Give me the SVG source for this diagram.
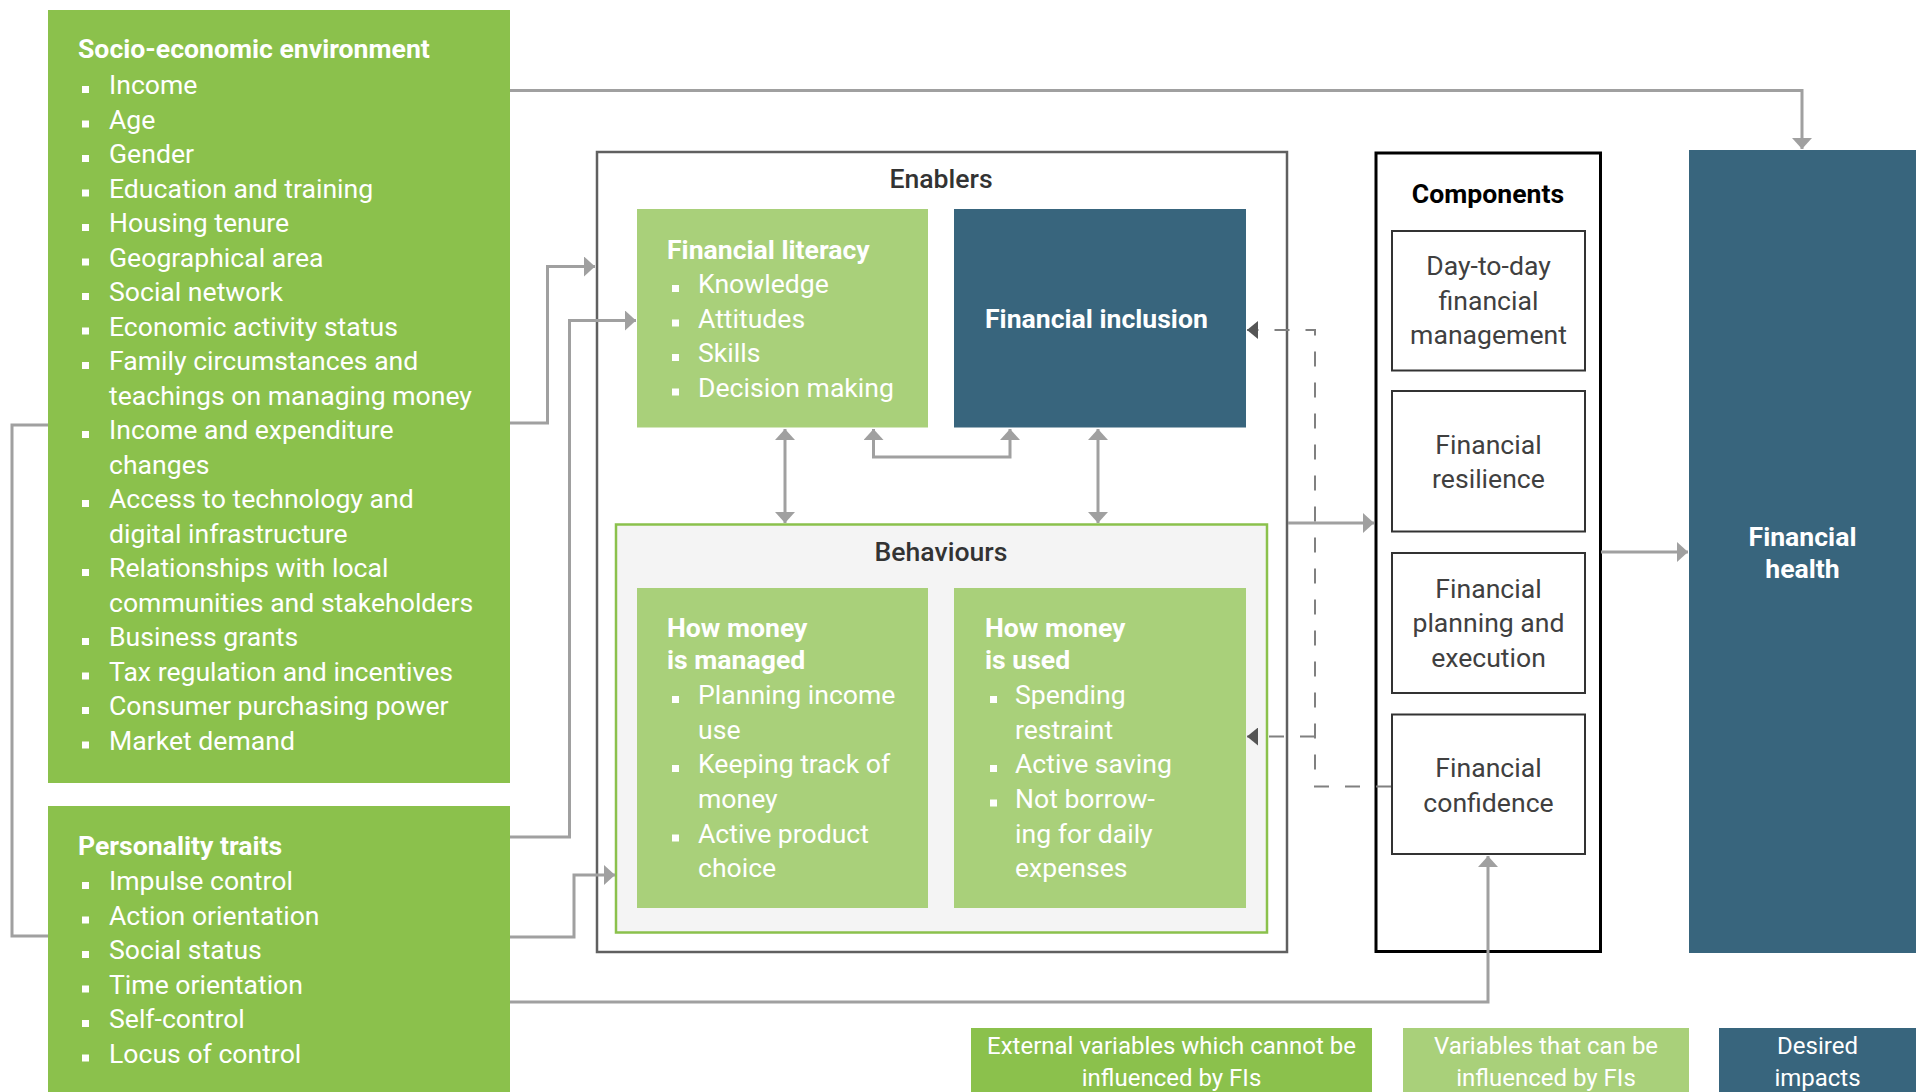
<svg xmlns="http://www.w3.org/2000/svg" width="1916" height="1092" viewBox="0 0 1916 1092">
<style>
text{font-family:Roboto,"Liberation Sans",sans-serif;font-size:26.6px}
.w{fill:#ffffff}
.b{font-weight:700}
.m{font-weight:500}
.d{fill:#404040}
.c{text-anchor:middle}
.lg{font-size:24px}
.dg{fill:#8BC14C}
.lgn{fill:#A9D07A}
.tl{fill:#38657D}
.bul{fill:#ffffff}
.conn{fill:none;stroke:#A0A0A0;stroke-width:3}
.dash{fill:none;stroke:#808080;stroke-width:2;stroke-dasharray:15 16}
.sub{fill:#ffffff;stroke:#333333;stroke-width:2}
</style>
<defs>
<marker id="ah" markerUnits="userSpaceOnUse" markerWidth="12" markerHeight="20" refX="11" refY="10" orient="auto-start-reverse" viewBox="0 0 12 20">
<path d="M0,0 L11,10 L0,20 z" fill="#A0A0A0"/>
</marker>
<marker id="ahd" markerUnits="userSpaceOnUse" markerWidth="12" markerHeight="18" refX="11" refY="9" orient="auto" viewBox="0 0 12 18">
<path d="M0,0 L11,9 L0,18 z" fill="#555555"/>
</marker>
</defs>
<rect width="1916" height="1092" fill="#ffffff"/>

<g id="socio-economic">
<rect class="dg" x="48" y="10" width="462" height="773"/>
<text class="w b" x="78" y="58">Socio-economic environment</text>
<g class="bul">
<rect x="82" y="86" width="7" height="7"/>
<rect x="82" y="120.5" width="7" height="7"/>
<rect x="82" y="155" width="7" height="7"/>
<rect x="82" y="189.5" width="7" height="7"/>
<rect x="82" y="224" width="7" height="7"/>
<rect x="82" y="258.5" width="7" height="7"/>
<rect x="82" y="293" width="7" height="7"/>
<rect x="82" y="327.5" width="7" height="7"/>
<rect x="82" y="362" width="7" height="7"/>
<rect x="82" y="431" width="7" height="7"/>
<rect x="82" y="500" width="7" height="7"/>
<rect x="82" y="569" width="7" height="7"/>
<rect x="82" y="638" width="7" height="7"/>
<rect x="82" y="672.5" width="7" height="7"/>
<rect x="82" y="707" width="7" height="7"/>
<rect x="82" y="741.5" width="7" height="7"/>
</g>
<text class="w" x="109">
<tspan x="109" y="94">Income</tspan>
<tspan x="109" y="128.5">Age</tspan>
<tspan x="109" y="163">Gender</tspan>
<tspan x="109" y="197.5">Education and training</tspan>
<tspan x="109" y="232">Housing tenure</tspan>
<tspan x="109" y="266.5">Geographical area</tspan>
<tspan x="109" y="301">Social network</tspan>
<tspan x="109" y="335.5">Economic activity status</tspan>
<tspan x="109" y="370">Family circumstances and</tspan>
<tspan x="109" y="404.5">teachings on managing money</tspan>
<tspan x="109" y="439">Income and expenditure</tspan>
<tspan x="109" y="473.5">changes</tspan>
<tspan x="109" y="508">Access to technology and</tspan>
<tspan x="109" y="542.5">digital infrastructure</tspan>
<tspan x="109" y="577">Relationships with local</tspan>
<tspan x="109" y="611.5">communities and stakeholders</tspan>
<tspan x="109" y="646">Business grants</tspan>
<tspan x="109" y="680.5">Tax regulation and incentives</tspan>
<tspan x="109" y="715">Consumer purchasing power</tspan>
<tspan x="109" y="749.5">Market demand</tspan>
</text>
</g>

<g id="personality-traits">
<rect class="dg" x="48" y="806" width="462" height="286"/>
<text class="w b" x="78" y="855">Personality traits</text>
<g class="bul">
<rect x="82" y="882" width="7" height="7"/>
<rect x="82" y="916.5" width="7" height="7"/>
<rect x="82" y="951" width="7" height="7"/>
<rect x="82" y="985.5" width="7" height="7"/>
<rect x="82" y="1020" width="7" height="7"/>
<rect x="82" y="1054.5" width="7" height="7"/>
</g>
<text class="w" x="109">
<tspan x="109" y="890">Impulse control</tspan>
<tspan x="109" y="924.5">Action orientation</tspan>
<tspan x="109" y="959">Social status</tspan>
<tspan x="109" y="993.5">Time orientation</tspan>
<tspan x="109" y="1028">Self-control</tspan>
<tspan x="109" y="1062.5">Locus of control</tspan>
</text>
</g>

<g id="enablers">
<rect x="597" y="152" width="690" height="800" fill="none" stroke="#606060" stroke-width="2.5"/>
<text class="c m" x="941" y="188" fill="#333333">Enablers</text>
</g>

<g id="financial-literacy">
<rect class="lgn" x="637" y="209" width="291" height="218.5"/>
<text class="w b" x="667" y="259">Financial literacy</text>
<g class="bul">
<rect x="672" y="285" width="7" height="7"/>
<rect x="672" y="319.5" width="7" height="7"/>
<rect x="672" y="354" width="7" height="7"/>
<rect x="672" y="388.5" width="7" height="7"/>
</g>
<text class="w">
<tspan x="698" y="293">Knowledge</tspan>
<tspan x="698" y="327.5">Attitudes</tspan>
<tspan x="698" y="362">Skills</tspan>
<tspan x="698" y="396.5">Decision making</tspan>
</text>
</g>

<g id="financial-inclusion">
<rect class="tl" x="954" y="209" width="292" height="218.5"/>
<text class="w b" x="985" y="327.5">Financial inclusion</text>
</g>

<g id="behaviours">
<rect x="616" y="524.5" width="651" height="408" fill="#F4F4F4" stroke="#8BC14C" stroke-width="2.5"/>
<text class="c m" x="941" y="561" fill="#333333">Behaviours</text>
</g>

<g id="how-money-is-managed">
<rect class="lgn" x="637" y="588" width="291" height="320"/>
<text class="w b"><tspan x="667" y="636.5">How money</tspan><tspan x="667" y="668.5">is managed</tspan></text>
<g class="bul">
<rect x="672" y="696" width="7" height="7"/>
<rect x="672" y="765" width="7" height="7"/>
<rect x="672" y="834.5" width="7" height="7"/>
</g>
<text class="w">
<tspan x="698" y="704">Planning income</tspan>
<tspan x="698" y="738.5">use</tspan>
<tspan x="698" y="773">Keeping track of</tspan>
<tspan x="698" y="807.5">money</tspan>
<tspan x="698" y="842.5">Active product</tspan>
<tspan x="698" y="877">choice</tspan>
</text>
</g>

<g id="how-money-is-used">
<rect class="lgn" x="954" y="588" width="292" height="320"/>
<text class="w b"><tspan x="985" y="636.5">How money</tspan><tspan x="985" y="668.5">is used</tspan></text>
<g class="bul">
<rect x="990" y="696" width="7" height="7"/>
<rect x="990" y="765" width="7" height="7"/>
<rect x="990" y="799.5" width="7" height="7"/>
</g>
<text class="w">
<tspan x="1015" y="704">Spending</tspan>
<tspan x="1015" y="738.5">restraint</tspan>
<tspan x="1015" y="773">Active saving</tspan>
<tspan x="1015" y="807.5">Not borrow-</tspan>
<tspan x="1015" y="842.5">ing for daily</tspan>
<tspan x="1015" y="877">expenses</tspan>
</text>
</g>

<g id="components">
<rect x="1376" y="153" width="224.5" height="798.5" fill="none" stroke="#000000" stroke-width="3"/>
<text class="c b" x="1488" y="203" fill="#000000">Components</text>
</g>

<g id="day-to-day">
<rect class="sub" x="1392" y="231" width="193" height="139.5"/>
<text class="c d"><tspan x="1488.5" y="275">Day-to-day</tspan><tspan x="1488.5" y="309.5">financial</tspan><tspan x="1488.5" y="344">management</tspan></text>
</g>

<g id="financial-resilience">
<rect class="sub" x="1392" y="391" width="193" height="140.5"/>
<text class="c d"><tspan x="1488.5" y="453.5">Financial</tspan><tspan x="1488.5" y="488">resilience</tspan></text>
</g>

<g id="financial-planning">
<rect class="sub" x="1392" y="553" width="193" height="140"/>
<text class="c d"><tspan x="1488.5" y="597.5">Financial</tspan><tspan x="1488.5" y="632">planning and</tspan><tspan x="1488.5" y="666.5">execution</tspan></text>
</g>

<g id="financial-confidence">
<rect class="sub" x="1392" y="714.5" width="193" height="139.5"/>
<text class="c d"><tspan x="1488.5" y="777">Financial</tspan><tspan x="1488.5" y="811.5">confidence</tspan></text>
</g>

<g id="financial-health">
<rect class="tl" x="1689" y="150" width="227" height="803"/>
<text class="c w b"><tspan x="1802.5" y="546">Financial</tspan><tspan x="1802.5" y="578">health</tspan></text>
</g>

<g id="legend">
<rect class="dg" x="971" y="1028" width="401" height="64"/>
<text class="c w lg"><tspan x="1171.5" y="1054">External variables which cannot be</tspan><tspan x="1171.5" y="1086">influenced by FIs</tspan></text>
<rect class="lgn" x="1403" y="1028" width="286" height="64"/>
<text class="c w lg"><tspan x="1546" y="1054">Variables that can be</tspan><tspan x="1546" y="1086">influenced by FIs</tspan></text>
<rect class="tl" x="1719" y="1028" width="197" height="64"/>
<text class="c w lg"><tspan x="1817.5" y="1054">Desired</tspan><tspan x="1817.5" y="1086">impacts</tspan></text>
</g>

<g id="connectors">
<path class="conn" d="M510,90.5 H1802 V149" marker-end="url(#ah)"/>
<path class="conn" d="M510,423 H547.5 V266.5 H595" marker-end="url(#ah)"/>
<path class="conn" d="M510,837 H569.5 V320.5 H636" marker-end="url(#ah)"/>
<path class="conn" d="M510,937 H574 V875 H615" marker-end="url(#ah)"/>
<path class="conn" d="M510,1002 H1488 V856" marker-end="url(#ah)"/>
<path class="conn" d="M48,425 H12 V936 H48"/>
<path class="conn" d="M785,429 V523" marker-start="url(#ah)" marker-end="url(#ah)"/>
<path class="conn" d="M873.5,429 V457 H1010 V429" marker-start="url(#ah)" marker-end="url(#ah)"/>
<path class="conn" d="M1098,429 V523" marker-start="url(#ah)" marker-end="url(#ah)"/>
<path class="conn" d="M1288,523 H1374" marker-end="url(#ah)"/>
<path class="conn" d="M1601,552 H1688" marker-end="url(#ah)"/>
<path class="dash" d="M1391,786.5 H1315 V330 H1247" marker-end="url(#ahd)"/>
<path class="dash" d="M1315,736.5 H1247" marker-end="url(#ahd)"/>
</g>
</svg>
